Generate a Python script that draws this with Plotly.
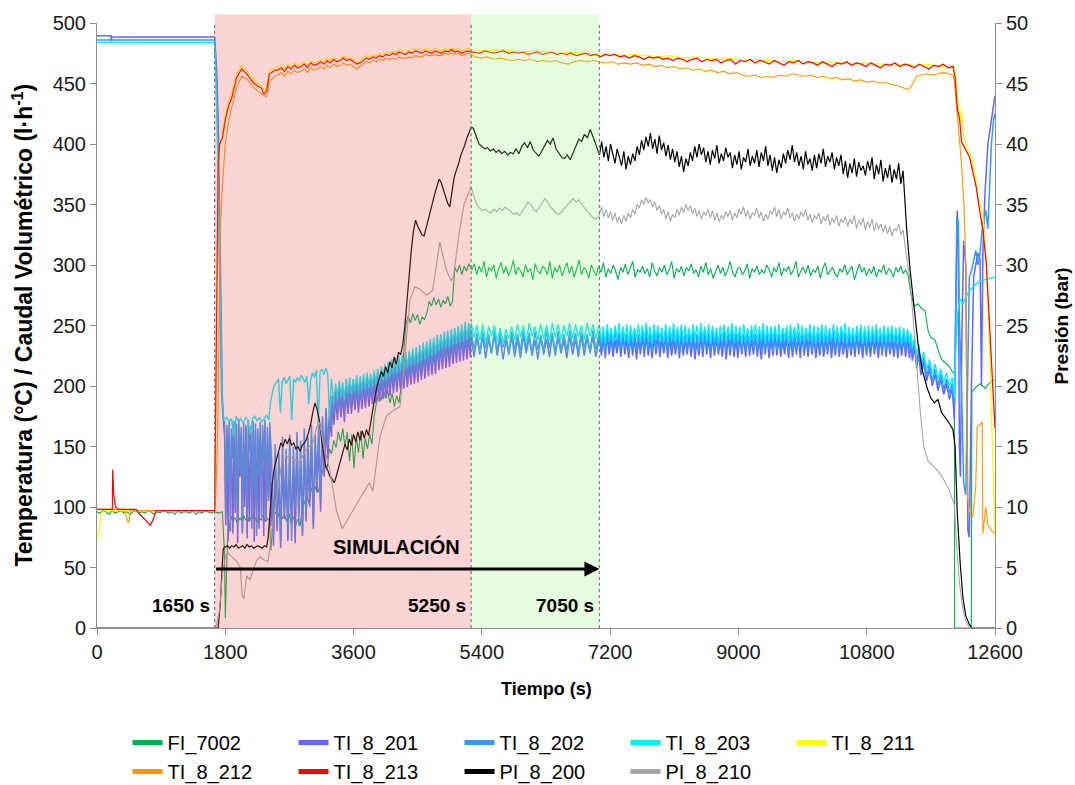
import numpy as np
import plotly.graph_objects as go


def assemble(*parts):
    """Join knot lists (times, values) and evenly sampled runs (t0, t1, values)."""
    ts, vs = [], []
    for p in parts:
        if len(p) == 2:
            ts.extend(p[0]); vs.extend(p[1])
        else:
            t0, t1, vals = p
            ts.extend(np.linspace(t0, t1, len(vals)).tolist()); vs.extend(vals)
    return ts, vs


# ---------------- FI_7002 (caudal, l/h) ----------------
fi_pre = [96, 95, 97, 96, 94, 97, 95, 96, 97, 95, 96, 94, 96, 97, 95, 96, 95, 97, 96, 94,
          96, 95, 97, 96, 95, 96, 94, 97, 95, 96, 96, 95, 97, 94, 96, 95, 97, 96, 95, 96]
fi_start_t = [1650, 1700, 1760, 1790, 1800, 1830, 1860]
fi_start_v = [96, 95, 96, 60, 8, 70, 88]
fi_low = [89, 92, 88, 91, 90, 87, 92, 89, 91, 88, 93, 90, 89, 92, 88, 91, 90, 94, 89, 91,
          87, 92, 90, 89, 93, 90, 88, 91, 90, 89]
fi_rise = [64, 92, 96, 91, 97, 90, 94, 88, 95, 87, 92, 85, 90, 84, 98, 104, 110, 103, 116, 110,
           117, 112, 121, 128, 138, 131, 148, 144, 155, 149, 162, 154, 165, 150, 162, 138, 160, 132, 158, 145,
           163, 140, 157, 148, 160, 152, 175, 186, 194, 188, 198, 190, 196, 186, 194, 183, 192, 186, 199, 212]
fi_steps = [225, 250, 258, 252, 260, 254, 259, 251, 257, 255, 260, 270, 266, 273, 267, 272, 265, 271, 268, 274,
            266, 270, 298, 294, 300, 292, 299, 295, 301, 297]
fi_run = [296, 301, 292, 299, 294, 303, 290, 298, 295, 300, 289, 297, 302, 293, 299, 291, 296, 304, 292, 298,
          295, 290, 300, 294, 297, 288, 301, 295, 293, 299, 297, 292, 303, 289, 298, 294, 300, 291, 296, 302,
          293, 299, 290, 297, 304, 292, 298, 295, 289, 300, 296, 291, 299, 294, 302, 290, 297, 293, 300, 295,
          288, 298, 294, 301, 292, 297, 303, 290, 296, 294, 299, 293, 297, 290, 302, 295, 291, 298, 294, 300,
          292, 296, 303, 289, 297, 294, 299, 291, 298, 295, 301, 293, 296, 290, 299, 294, 302, 292, 297, 289,
          295, 300, 293, 298, 291, 296, 303, 294, 290, 297, 298, 292, 295, 301, 289, 297, 294, 299, 292, 296,
          293, 300, 296, 290, 298, 294, 302, 291, 297, 295, 299, 292, 296, 303, 290, 295, 298, 293, 300, 291,
          296, 294, 299, 289, 297, 302, 292, 295, 298, 293, 290, 297, 294, 300, 292, 296, 299, 288, 295, 301,
          294, 298, 291, 297, 293, 299, 290, 296, 294, 300, 292, 297, 295, 290, 298, 294, 299, 293, 296, 292]
fi_end_t = [11420, 11470, 11520, 11570, 11620, 11660, 11700, 11760, 11800, 11850, 11900, 11950, 12000, 12030,
            12034, 12268, 12275, 12330, 12400, 12460, 12530, 12600]
fi_end_v = [276, 266, 268, 264, 262, 246, 240, 238, 230, 222, 219, 217, 212, 210,
            0, 0, 195, 199, 202, 198, 203, 205]

# ---------------- TI_8_201 ----------------
t201_start_t = [0, 195, 200, 210, 1650, 1660, 1680, 1700, 1720, 1740, 1760, 1780]
t201_start_v = [489.5, 489.5, 485, 488.5, 488.5, 480, 460, 420, 350, 260, 190, 165]
t201_chaos = [160, 85, 150, 72, 165, 110, 140, 78, 158, 95, 168, 70, 145, 125, 160, 80, 152, 100, 166, 74,
              148, 88, 162, 118, 155, 71, 164, 98, 143, 82, 160, 135, 150, 76, 167, 92, 153, 108, 161, 84]
t201_climb = [120, 68, 132, 80, 125, 66, 138, 90, 128, 72, 140, 85, 130, 70, 145, 95, 135, 76, 148, 88,
              140, 100, 150, 82, 146, 112, 155, 96, 160, 125, 168, 140, 172, 158]
t201_band = [186, 168, 190, 172, 193, 174, 192, 170, 195, 177, 196, 177, 195, 180, 198, 178, 197, 181, 199, 182,
             200, 183, 199, 185, 202, 186, 203, 187, 205, 189, 207, 190, 209, 192, 211, 194, 212, 195, 214, 197,
             215, 198, 217, 199, 218, 201, 220, 202, 221, 203, 223, 205, 225, 206, 226, 208, 228, 209, 229, 210,
             231, 213, 232, 214, 234, 215, 235, 216, 236, 218, 237, 219, 239, 220, 240, 221, 241, 222, 240, 224]
t201_sim = [242, 224, 240, 226, 241, 223, 239, 227, 242, 225, 240, 222, 238, 226, 241, 224, 239, 223, 242, 227,
            240, 225, 238, 222, 241, 226, 239, 224, 242, 225, 240, 227, 238, 223, 241, 226, 239, 224, 242, 225,
            240, 227, 241, 224, 239]
t201_run = [241, 225, 239, 223, 242, 226, 240, 224, 238, 227, 240, 224, 242, 226, 239, 223, 241, 225, 240, 222,
            239, 226, 241, 224, 242, 225, 238, 223, 240, 226, 242, 224, 239, 227, 241, 223, 240, 225, 238, 226,
            240, 223, 242, 225, 239, 226, 241, 224, 240, 222, 238, 225, 241, 224, 242, 226, 239, 223, 241, 225,
            240, 226, 238, 224, 241, 222, 240, 225, 242, 224, 239, 223, 241, 226, 240, 224, 242, 225, 238, 226,
            241, 224, 239, 222, 240, 226, 241, 223, 239, 225, 242, 225, 240, 224, 238, 226, 241, 223, 240, 224,
            239, 226, 241, 223, 242, 225, 239, 224, 241, 226, 240, 223, 238, 225, 241, 224, 240, 226, 242, 223,
            239, 225, 241, 224, 240, 226, 238, 223, 241, 225, 240, 224, 242, 226, 239, 223, 241, 225, 239, 224,
            241, 226, 239, 223, 240, 225, 242, 224, 240, 226, 238, 224, 240, 223, 239, 225, 240, 224, 238, 223]
t201_end_t = [11420, 11440, 11470, 11500, 11530, 11560, 11600, 11640, 11680, 11720, 11760, 11800, 11840, 11880,
              11920, 11960, 12000, 12030, 12050, 12070, 12085, 12100, 12115, 12135, 12160, 12190, 12220, 12240,
              12270, 12300, 12330, 12360, 12390, 12410, 12430, 12460, 12500, 12540, 12580, 12600]
t201_end_v = [236, 221, 232, 215, 226, 209, 220, 204, 214, 200, 210, 196, 206, 193,
              202, 189, 198, 172, 250, 345, 320, 150, 125, 240, 320, 300, 80, 75,
              200, 290, 300, 310, 305, 200, 310, 360, 400, 415, 430, 440]

# ---------------- TI_8_202 ----------------
t202_start_t = [0, 1650, 1660, 1680, 1700, 1715, 1730, 1750, 1770]
t202_start_v = [486, 486, 475, 450, 400, 320, 250, 190, 172]
t202_chaos = [170, 95, 168, 120, 172, 80, 165, 140, 171, 100, 169, 85, 173, 130, 166, 78, 170, 115, 168, 90,
              172, 145, 167, 82, 171, 110, 169, 76, 165, 125, 170, 92, 168, 138, 172, 88, 166, 105, 170, 150]
t202_climb = [140, 75, 152, 88, 145, 70, 158, 95, 148, 80, 160, 72, 150, 100, 162, 85, 155, 78, 165, 92,
              158, 110, 168, 86, 160, 120, 172, 105, 175, 140, 182, 150, 186, 165]
t202_band = [192, 176, 196, 180, 199, 183, 198, 179, 201, 186, 202, 185, 201, 188, 204, 186, 203, 189, 205, 190,
             206, 191, 205, 193, 208, 194, 209, 195, 211, 197, 213, 198, 215, 200, 217, 202, 218, 203, 220, 205,
             221, 206, 223, 207, 224, 209, 226, 210, 227, 211, 229, 213, 231, 214, 232, 216, 234, 217, 235, 218,
             237, 221, 238, 222, 240, 223, 241, 224, 242, 226, 243, 227, 245, 228, 246, 229, 247, 230, 246, 232]
t202_sim = [246, 230, 244, 228, 245, 231, 243, 227, 246, 229, 244, 232, 242, 228, 245, 230, 243, 229, 246, 231,
            244, 227, 245, 230, 242, 229, 246, 231, 244, 228, 245, 230, 243, 229, 246, 232, 244, 228, 245, 231,
            243, 229, 246, 230, 244]
t202_run = [245, 230, 243, 228, 246, 231, 244, 229, 247, 232, 244, 229, 246, 231, 243, 228, 245, 230, 246, 229,
            243, 231, 245, 229, 247, 230, 244, 228, 246, 231, 245, 229, 243, 230, 246, 228, 244, 231, 247, 230,
            244, 228, 246, 231, 243, 229, 245, 230, 246, 228, 243, 230, 247, 229, 245, 231, 244, 228, 246, 230,
            245, 229, 243, 231, 246, 228, 244, 230, 247, 229, 244, 231, 246, 228, 243, 230, 245, 229, 246, 231,
            243, 228, 245, 230, 247, 229, 244, 231, 246, 228, 245, 230, 243, 229, 246, 231, 244, 228, 245, 230,
            246, 229, 244, 231, 243, 228, 247, 230, 245, 229, 244, 231, 246, 228, 245, 230, 243, 229, 246, 231,
            245, 228, 243, 230, 246, 229, 244, 231, 247, 228, 243, 230, 245, 229, 246, 231, 244, 228, 245, 230,
            244, 229, 246, 231, 243, 228, 245, 230, 244, 229, 245, 230, 243, 228, 244, 229, 243, 230, 244, 229]
t202_end_t = [11420, 11440, 11470, 11500, 11530, 11560, 11600, 11640, 11680, 11720, 11760, 11800, 11840, 11880,
              11920, 11960, 12000, 12030, 12045, 12065, 12085, 12100, 12130, 12160, 12190, 12210, 12240, 12270,
              12300, 12330, 12360, 12390, 12430, 12470, 12500, 12520, 12550, 12580, 12600]
t202_end_v = [240, 226, 236, 220, 230, 214, 224, 208, 218, 204, 214, 200, 210, 197,
              206, 194, 202, 185, 260, 340, 335, 255, 200, 120, 110, 180, 290, 295,
              305, 312, 300, 310, 335, 345, 330, 360, 400, 420, 425]

# ---------------- TI_8_203 ----------------
t203_start_t = [0, 1650, 1660, 1680, 1700, 1720, 1740, 1760, 1780]
t203_start_v = [484, 484, 470, 430, 380, 300, 230, 185, 172]
t203_flat = [172, 174, 170, 173, 158, 175, 171, 173, 169, 174, 172, 160, 173, 175, 171, 174, 170, 173, 176, 172]
t203_rise_t = [2430, 2470, 2500]
t203_rise_v = [185, 197, 202]
t203_shelf = [203, 206, 178, 204, 207, 202, 205, 208, 172, 206, 203, 207, 204, 209, 206, 203, 208, 185, 205, 211,
              207, 213, 168, 212, 214, 209, 215, 210, 175, 206]
t203_band = [199, 187, 202, 190, 204, 192, 203, 189, 206, 194, 207, 194, 206, 196, 209, 195, 208, 197, 210, 198,
             211, 199, 210, 201, 213, 202, 214, 203, 216, 205, 218, 206, 220, 208, 222, 210, 223, 211, 225, 213,
             226, 214, 228, 215, 229, 217, 231, 218, 232, 219, 234, 221, 236, 222, 237, 224, 239, 225, 240, 226,
             242, 229, 243, 230, 245, 231, 246, 232, 247, 234, 248, 235, 250, 236, 251, 237, 253, 238, 252, 240]
t203_sim = [252, 240, 250, 238, 251, 236, 249, 241, 250, 237, 248, 235, 247, 239, 249, 238, 251, 240, 250, 236,
            252, 241, 249, 238, 251, 239, 250, 237, 252, 240, 251, 238, 250, 241, 252, 239, 251, 240, 250, 238,
            252, 241, 251, 239, 250]
t203_run = [250, 237, 249, 235, 251, 238, 248, 236, 250, 239, 252, 236, 249, 238, 251, 235, 250, 237, 248, 239,
            251, 236, 250, 238, 252, 237, 249, 235, 251, 238, 250, 239, 248, 236, 251, 237, 249, 238, 252, 236,
            249, 237, 251, 235, 250, 238, 248, 236, 251, 239, 250, 236, 252, 238, 249, 237, 251, 235, 250, 238,
            248, 236, 250, 239, 251, 237, 249, 238, 252, 236, 250, 238, 249, 235, 251, 237, 248, 236, 250, 239,
            251, 236, 249, 238, 252, 235, 250, 237, 249, 238, 250, 237, 251, 236, 248, 239, 250, 235, 251, 237,
            249, 238, 252, 236, 250, 237, 248, 239, 251, 236, 250, 235, 249, 238, 251, 236, 250, 237, 248, 238,
            251, 237, 249, 236, 250, 239, 252, 235, 249, 237, 248, 236, 250, 238, 251, 235, 249, 237, 250, 236,
            249, 238, 251, 236, 248, 237, 250, 235, 249, 238, 250, 236, 248, 237, 249, 235, 248, 236, 247, 237]
t203_end_t = [11420, 11440, 11470, 11500, 11530, 11560, 11600, 11640, 11680, 11720, 11760, 11800, 11840, 11880,
              11920, 11960, 12000, 12030, 12050, 12080, 12110, 12150, 12200, 12260, 12330, 12400, 12480, 12600]
t203_end_v = [244, 232, 240, 226, 234, 220, 228, 214, 222, 210, 218, 206, 214, 203,
              211, 200, 207, 190, 230, 262, 272, 268, 275, 280, 284, 287, 288, 290]

# ---------------- TI_8_211 ----------------
t211_start_t = [0, 30, 60, 100, 1650, 1660, 1680, 1700, 1720, 1760, 1800, 1850, 1890, 1960, 2030, 2100, 2190,
                2250, 2310, 2340, 2380, 2420, 2500]
t211_start_v = [74, 80, 95, 97, 97, 130, 280, 370, 395, 410, 425, 436, 442, 458, 465, 461, 454,
                450, 448, 444, 447, 461, 463]
t211_rise = [463, 465, 462, 466, 464, 467, 465, 466, 468, 465, 469, 467, 468, 470, 468, 471, 469, 472, 470, 471,
             473, 471, 472, 470, 468, 469, 471, 473, 472, 474, 473, 475, 474, 476, 475, 477, 476, 478, 477, 476,
             478, 477, 479, 478, 477, 479, 478, 477, 479, 478, 477, 479, 478, 479, 478, 479, 477, 478, 479, 478]
t211_run = [478, 477, 478, 477, 476, 477, 476, 475, 476, 475, 474, 475, 473, 474, 473, 472, 473, 471, 472, 471,
            470, 471, 469, 470, 469, 468, 469, 468, 467, 468, 467, 466, 467, 466, 465, 466, 465, 466, 464, 465]
t211_end_t = [12040, 12070, 12100, 12120, 12130, 12150, 12200, 12244, 12300, 12338, 12360, 12384, 12431,
              12460, 12478, 12525, 12560, 12600]
t211_end_v = [458, 440, 425, 418, 428, 410, 398, 393, 382, 368, 355, 352, 340,
              320, 305, 230, 160, 75]

# ---------------- TI_8_212 ----------------
t212_start_t = [0, 380, 410, 440, 455, 470, 1650, 1660, 1690, 1710, 1730, 1760, 1800, 1850, 1900, 1960, 2030,
                2100, 2190, 2310, 2380, 2420, 2500]
t212_start_v = [98, 98, 92, 87, 90, 97, 97, 100, 150, 250, 330, 365, 400, 420, 432, 447, 456,
                454, 447, 441, 439, 452, 456]
t212_rise = [457, 459, 456, 460, 458, 461, 459, 460, 462, 459, 463, 461, 462, 464, 462, 465, 463, 466, 464, 465,
             467, 465, 466, 464, 462, 464, 466, 468, 467, 469, 468, 470, 469, 471, 470, 471, 470, 472, 471, 471,
             472, 471, 473, 472, 472, 474, 473, 473, 474, 473, 473, 475, 474, 475, 474, 475, 473, 474, 475, 474]
t212_run = [472, 471, 472, 470, 471, 470, 469, 470, 469, 470, 468, 469, 468, 469, 467, 466, 468, 469, 468, 469,
            468, 467, 468, 466, 467, 466, 467, 465, 466, 464, 465, 463, 464, 462, 463, 461, 462, 460, 461, 459,
            460, 458, 459, 457, 456, 457, 455, 456, 455, 457, 456, 458, 457, 456, 457, 455, 456, 454, 455, 453,
            454, 452, 453, 451, 452, 450, 451, 449, 448, 446]
t212_end_t = [11380, 11420, 11460, 11500, 11560, 11640, 11720, 11800, 11880, 11950, 12010, 12030, 12060, 12090,
              12130, 12170, 12190, 12205, 12215, 12250, 12290, 12330, 12350, 12400, 12420, 12430, 12470, 12500,
              12560, 12600]
t212_end_v = [445, 447, 452, 456, 457, 458, 457, 458, 459, 458, 457, 452, 430, 411,
              384, 343, 300, 180, 106, 95, 92, 117, 166, 169, 170, 78, 100, 85,
              80, 78]

# ---------------- TI_8_213 ----------------
t213_start_t = [0, 200, 215, 220, 235, 260, 300, 550, 600, 700, 750, 790, 830, 1650, 1660, 1680, 1700, 1720,
                1760, 1800, 1850, 1890, 1960, 2030, 2100, 2190, 2250, 2310, 2340, 2380, 2420, 2500]
t213_start_v = [98, 98, 98, 131, 110, 100, 98, 98, 94, 88, 85, 90, 97, 97, 150, 300, 380, 400,
                405, 420, 432, 438, 455, 462, 458, 451, 448, 446, 441, 444, 458, 461]
t213_rise = [461, 463, 460, 464, 462, 465, 463, 464, 466, 463, 467, 465, 466, 468, 466, 469, 467, 470, 468, 469,
             471, 469, 470, 468, 466, 467, 469, 471, 470, 472, 471, 473, 472, 474, 473, 475, 474, 476, 475, 474,
             476, 475, 477, 476, 475, 477, 476, 475, 477, 476, 475, 477, 476, 478, 476, 477, 475, 476, 477, 476]
t213_run = [476, 475, 477, 476, 475, 476, 477, 475, 476, 475, 476, 474, 475, 476, 474, 475, 476, 474, 475, 474,
            475, 473, 474, 475, 473, 474, 472, 474, 473, 474, 472, 473, 471, 473, 472, 470, 472, 471, 472, 470,
            471, 469, 471, 470, 468, 470, 471, 468, 470, 469, 470, 467, 469, 470, 466, 469, 468, 470, 467, 469,
            468, 466, 469, 467, 465, 468, 467, 469, 466, 468, 467, 465, 468, 466, 464, 467, 466, 468, 465, 467,
            466, 464, 467, 465, 463, 466, 465, 467, 464, 466, 465, 463, 466, 464, 462, 465, 464, 466, 463, 464]
t213_end_t = [12040, 12070, 12104, 12130, 12150, 12200, 12244, 12290, 12338, 12384, 12431, 12478, 12525,
              12560, 12600]
t213_end_v = [455, 430, 420, 402, 400, 394, 389, 378, 364, 345, 329, 301, 246, 215, 165]

# ---------------- PI_8_200 (bar) ----------------
p200_start_t = [0, 1700, 1730, 1750, 1770, 1790]
p200_start_v = [0, 0, 2, 5, 6.5, 6.7]
p200_flat = [6.7, 6.8, 6.6, 6.8, 6.7, 6.9, 6.6, 6.7, 6.8, 6.6, 6.9, 6.7, 6.8, 6.6, 6.7, 6.8, 6.7, 6.6, 6.8, 6.7]
p200_rise = [7.4, 10.0, 12.0, 13.3, 14.0, 14.6, 15.3, 15.0, 15.6, 15.2, 15.7, 15.1, 15.3, 14.8, 15.0, 14.6,
             15.1, 15.3, 15.6, 16.2, 16.9, 17.9, 18.6, 18.0, 17.2, 15.6, 14.3, 13.3, 13.0, 12.5, 12.3, 12.0,
             12.6, 13.2, 13.9, 14.6, 15.2, 14.7, 15.6, 15.1, 16.0, 15.4, 16.2, 15.5, 16.3, 15.7, 16.4, 15.9,
             17.0, 18.2, 19.1, 20.0, 20.6, 21.2, 20.8, 21.6, 21.1, 22.0, 21.5, 22.4, 21.8, 22.8, 22.6, 23.4,
             25.0, 27.3, 29.5, 31.2, 32.8, 33.7, 33.2, 32.9, 32.5, 32.4, 33.1, 34.0, 34.6, 35.2, 35.9, 36.5,
             37.1, 36.8, 36.2, 35.6, 35.1, 34.8, 35.9, 37.2, 37.8, 38.3, 39.0, 39.4, 39.9, 40.5, 41.0, 41.4]
p200_sim = [41.3, 40.6, 40.0, 39.8, 39.6, 39.7, 39.4, 39.6, 39.3, 39.5, 39.2, 39.4, 39.1, 39.3, 39.2, 39.6,
            39.2, 39.8, 40.1, 39.7, 40.2, 39.5, 39.2, 39.0, 39.4, 39.8, 40.3, 40.0, 40.5, 39.6, 39.2, 38.9,
            38.8, 39.1, 38.7, 39.3, 39.9, 40.4, 40.2, 40.8, 40.5, 41.2, 40.6, 40.0, 39.3]
p200_run = [39.1, 40.2, 38.9, 39.8, 38.6, 40.0, 39.2, 38.4, 39.6, 38.8, 38.2, 39.4, 37.9, 39.0, 38.3, 39.2,
            38.6, 39.8, 39.1, 40.3, 39.5, 40.6, 39.8, 40.9, 39.6, 40.4, 39.2, 40.7, 39.5, 40.1, 39.0, 39.9,
            38.7, 39.6, 38.5, 39.4, 38.1, 39.0, 37.7, 38.8, 38.2, 39.3, 38.6, 39.8, 38.9, 40.0, 39.1, 39.7,
            38.5, 39.4, 38.3, 39.5, 38.8, 39.9, 38.4, 39.2, 38.6, 39.7, 38.9, 39.3, 38.0, 39.1, 38.3, 39.4,
            37.9, 38.9, 38.5, 39.6, 38.2, 39.0, 38.4, 39.5, 38.1, 39.3, 38.6, 39.8, 38.2, 39.1, 37.8, 38.9,
            37.6, 38.7, 38.0, 39.2, 38.4, 39.5, 38.7, 39.9, 38.5, 39.3, 38.2, 39.0, 37.9, 39.4, 38.3, 38.8,
            37.8, 39.1, 38.0, 39.2, 38.4, 39.6, 38.1, 39.0, 38.5, 39.3, 37.9, 38.9, 38.2, 39.1, 37.5, 38.6,
            37.2, 38.4, 37.6, 38.8, 37.3, 38.5, 37.8, 38.2, 37.4, 38.6, 37.8, 38.9, 37.1, 38.3, 37.5, 38.7,
            36.9, 38.0, 37.2, 38.3, 36.8, 37.9, 37.1, 38.4, 36.7, 37.8]
p200_end_t = [11360, 11410, 11460, 11520, 11580, 11650, 11700, 11750, 11800, 11850, 11900, 11950, 12010, 12040,
              12070, 12110, 12150, 12190, 12240, 12280, 12600]
p200_end_v = [33.0, 29.5, 26.7, 23.5, 21.3, 19.8, 19.0, 18.6, 18.9, 17.8, 17.4, 17.0, 16.4, 15.0,
              9.6, 5.5, 2.5, 1.0, 0.3, 0.0, 0.0]

# ---------------- PI_8_210 (bar) ----------------
p210_start_t = [0, 1650, 1680, 1720, 1760, 1800, 1830, 1870, 1960, 2010, 2035, 2060, 2100, 2150, 2190, 2240,
                2290, 2350, 2400, 2450, 2480, 2600, 2700, 2840, 2930, 3030, 3080, 3120, 3200, 3260, 3360,
                3440, 3540, 3680, 3820, 3870, 3920, 3970, 4060, 4160, 4250, 4300, 4390, 4460, 4530, 4620,
                4710, 4810, 4900, 4970, 5000, 5080, 5150, 5250]
p210_start_v = [0, 0, 0.3, 1.5, 4.5, 5.8, 6.3, 6.0, 5.5, 5.0, 2.8, 2.4, 4.3, 4.0, 4.8, 5.6,
                5.9, 5.6, 5.5, 8.0, 9.2, 13.9, 14.2, 13.7, 14.7, 15.3, 16.6, 17.0, 14.5, 13.3, 9.7,
                8.2, 9.2, 10.6, 12.0, 11.3, 13.5, 15.8, 17.5, 18.0, 18.3, 21.0, 27.1, 28.2, 28.0, 27.5,
                27.9, 31.9, 29.6, 28.7, 29.0, 32.6, 35.0, 36.5]
p210_sim = [35.6, 35.0, 34.7, 34.5, 34.6, 34.4, 34.3, 34.6, 34.4, 34.7, 34.5, 34.8, 34.6, 34.4, 34.2, 34.3,
            34.1, 34.4, 34.8, 35.2, 35.0, 34.6, 34.4, 34.7, 35.1, 35.5, 35.2, 34.8, 34.5, 34.3, 34.2, 34.4,
            34.7, 35.0, 35.3, 35.5, 35.2, 35.4, 35.0, 34.7, 34.4, 34.1, 33.9, 33.8, 34.0]
p210_run = [34.2, 34.8, 34.0, 34.6, 33.9, 34.4, 33.7, 34.3, 33.5, 34.0, 33.4, 34.1, 33.6, 34.3, 33.9, 34.6,
            34.2, 35.0, 34.7, 35.4, 35.0, 35.6, 35.1, 35.4, 34.8, 35.2, 34.5, 34.9, 34.2, 34.6, 33.8, 34.4,
            33.6, 34.2, 33.9, 34.6, 34.1, 34.8, 34.3, 35.0, 34.5, 34.9, 34.2, 34.7, 34.0, 34.5, 33.8, 34.4,
            34.1, 34.6, 33.9, 34.5, 33.7, 34.3, 33.6, 34.1, 33.8, 34.4, 34.0, 34.5, 33.7, 34.3, 33.9, 34.6,
            34.2, 34.8, 34.0, 34.5, 33.8, 34.3, 34.1, 34.7, 33.9, 34.4, 33.6, 34.2, 33.8, 34.5, 34.2, 34.8,
            34.0, 34.6, 33.8, 34.4, 34.1, 34.7, 33.9, 34.3, 33.6, 34.2, 33.8, 34.4, 34.0, 34.6, 33.7, 34.2,
            33.5, 34.1, 33.8, 34.3, 33.4, 34.0, 33.6, 34.2, 33.3, 33.9, 33.5, 34.1, 33.2, 33.8, 33.5, 34.0,
            33.2, 33.8, 33.4, 34.1, 33.0, 33.7, 33.3, 33.9, 32.9, 33.6, 33.1, 33.8, 32.8, 33.5, 33.0, 33.4,
            32.7, 33.3, 32.6, 33.2, 32.4, 33.0, 32.8, 33.4, 32.5, 32.9]
p210_end_t = [11340, 11400, 11440, 11500, 11550, 11600, 11660, 11750, 11850, 11950, 12030, 12060, 12100,
              12150, 12200, 12260, 12600]
p210_end_v = [31.5, 29.0, 26.5, 21.5, 18.0, 15.0, 13.8, 13.3, 12.6, 11.5, 10.2, 7.0, 3.8,
              1.5, 0.4, 0.0, 0.0]

# Series assembly
fi_t, fi_v = assemble((0, 1640, fi_pre), (fi_start_t, fi_start_v), (1870, 2420, fi_low),
                      (2440, 4299, fi_rise), (4300, 5250, fi_steps), (5260, 11380, fi_run),
                      (fi_end_t, fi_end_v))
t201_t, t201_v = assemble((t201_start_t, t201_start_v), (1790, 2440, t201_chaos), (2450, 3290, t201_climb),
                          (3300, 5240, t201_band), (5250, 7040, t201_sim), (7050, 11400, t201_run),
                          (t201_end_t, t201_end_v))
t202_t, t202_v = assemble((t202_start_t, t202_start_v), (1790, 2440, t202_chaos), (2450, 3290, t202_climb),
                          (3300, 5240, t202_band), (5250, 7040, t202_sim), (7050, 11400, t202_run),
                          (t202_end_t, t202_end_v))
t203_t, t203_v = assemble((t203_start_t, t203_start_v), (1790, 2410, t203_flat), (t203_rise_t, t203_rise_v),
                          (2520, 3290, t203_shelf), (3300, 5240, t203_band), (5250, 7040, t203_sim),
                          (7050, 11400, t203_run), (t203_end_t, t203_end_v))
t211_t, t211_v = assemble((t211_start_t, t211_start_v), (2540, 5250, t211_rise), (5300, 12010, t211_run),
                          (t211_end_t, t211_end_v))
t212_t, t212_v = assemble((t212_start_t, t212_start_v), (2540, 5250, t212_rise), (5300, 11330, t212_run),
                          (t212_end_t, t212_end_v))
t213_t, t213_v = assemble((t213_start_t, t213_start_v), (2540, 5250, t213_rise), (5300, 12010, t213_run),
                          (t213_end_t, t213_end_v))
p200_t, p200_v = assemble((p200_start_t, p200_start_v), (1800, 2380, p200_flat), (2400, 5250, p200_rise),
                          (5280, 7040, p200_sim), (7050, 11310, p200_run), (p200_end_t, p200_end_v))
p210_t, p210_v = assemble((p210_start_t, p210_start_v), (5290, 7040, p210_sim), (7050, 11310, p210_run),
                          (p210_end_t, p210_end_v))

# name, times, values, colour, axis, line width
series = [
    ("FI_7002", fi_t, fi_v, "#00B050", "y", 1.1),
    ("TI_8_201", t201_t, t201_v, "#6666FF", "y", 1.5),
    ("TI_8_202", t202_t, t202_v, "#3399FF", "y", 1.5),
    ("TI_8_203", t203_t, t203_v, "#00EEFF", "y", 1.4),
    ("TI_8_211", t211_t, t211_v, "#FFFF00", "y", 1.2),
    ("TI_8_212", t212_t, t212_v, "#FF9900", "y", 1.1),
    ("TI_8_213", t213_t, t213_v, "#FF0000", "y", 1.2),
    ("PI_8_200", p200_t, p200_v, "#000000", "y2", 1.2),
    ("PI_8_210", p210_t, p210_v, "#A6A6A6", "y2", 1.1),
]

x_ticks = [0, 1800, 3600, 5400, 7200, 9000, 10800, 12600]
x_tick_text = ["0", "1800", "3600", "5400", "7200", "9000", "10800", "12600"]
t_start, t_sim_end, t_test_end = 1650, 5250, 7050
arrow_level = 48.7
t_max = 12600

fig = go.Figure()
for name, t, v, color, yax, w in series:
    fig.add_trace(go.Scatter(x=t, y=v, mode="lines", name=name, yaxis=yax, showlegend=False,
                             line=dict(color=color, width=w), hoverinfo="skip"))
# thick legend keys
for name, t, v, color, yax, w in series:
    fig.add_trace(go.Scatter(x=[None], y=[None], mode="lines", name=name, yaxis=yax,
                             line=dict(color=color, width=5)))

font_main = "Liberation Sans, Arial, sans-serif"
axis_col = "#8C8C8C"

shapes = [
    dict(type="rect", xref="paper", yref="paper", x0=t_start / t_max, x1=t_sim_end / t_max,
         y0=0, y1=1.0144, fillcolor="rgba(238,80,80,0.24)", line=dict(width=0), layer="above"),
    dict(type="rect", xref="paper", yref="paper", x0=t_sim_end / t_max, x1=t_test_end / t_max,
         y0=0, y1=1.0144, fillcolor="rgba(130,240,100,0.21)", line=dict(width=0), layer="above"),
]
for tv in (t_start, t_sim_end, t_test_end):
    shapes.append(dict(type="line", xref="paper", yref="paper", x0=tv / t_max, x1=tv / t_max, y0=0, y1=1,
                       line=dict(color="#7F7F7F", width=1.2, dash="dot"), layer="above"))

annotations = [
    # simulation-period arrow, from start of test to end of simulated window
    dict(x=t_test_end, y=arrow_level, ax=t_start, ay=arrow_level, xref="x", yref="y", axref="x", ayref="y",
         text="", showarrow=True, arrowhead=2, arrowsize=1, arrowwidth=3, arrowcolor="#000"),
    dict(x=4205, y=67, xref="x", yref="y", text="<b>SIMULACIÓN</b>", showarrow=False,
         font=dict(size=20, color="#000", family=font_main)),
]
for tv in (t_start, t_sim_end, t_test_end):
    annotations.append(dict(x=tv, y=19, xref="x", yref="y", text=f"<b>{tv} s</b>", showarrow=False,
                            xanchor="right", xshift=-3, font=dict(size=19, color="#000", family=font_main)))
annotations += [
    dict(x=-0.0835, y=0.5, xref="paper", yref="paper", textangle=-90, showarrow=False,
         xanchor="center", yanchor="middle",
         text="<b>Temperatura (°C) / Caudal Volumétrico (l·h<sup>-1</sup>)</b>",
         font=dict(size=23, color="#000", family=font_main)),
    dict(x=1.0746, y=0.5, xref="paper", yref="paper", textangle=-90, showarrow=False,
         xanchor="center", yanchor="middle",
         text="<b>Presión (bar)</b>", font=dict(size=19, color="#000", family=font_main)),
    dict(x=0.5, y=-0.1008, xref="paper", yref="paper", showarrow=False, xanchor="center", yanchor="middle",
         text="<b>Tiempo (s)</b>", font=dict(size=18, color="#000", family=font_main)),
]

tick_font = dict(size=20, color="#1A1A1A", family=font_main)
fig.update_layout(
    width=1075, height=785,
    margin=dict(l=97, r=80, t=23, b=157, autoexpand=False),
    paper_bgcolor="white", plot_bgcolor="white",
    font=dict(family=font_main),
    xaxis=dict(range=[0, t_max], tickvals=x_ticks, ticktext=x_tick_text, ticks="outside", ticklen=6,
               tickcolor=axis_col, showline=True, linecolor=axis_col, linewidth=1, showgrid=False,
               zeroline=False, tickfont=tick_font),
    yaxis=dict(range=[0, 500], dtick=50, ticks="outside", ticklen=6, tickcolor=axis_col,
               showline=True, linecolor=axis_col, linewidth=1, showgrid=False, zeroline=False,
               tickfont=tick_font),
    yaxis2=dict(range=[0, 50], dtick=5, overlaying="y", side="right", ticks="outside", ticklen=6,
                tickcolor=axis_col, showline=True, linecolor=axis_col, linewidth=1, showgrid=False,
                zeroline=False, tickfont=tick_font),
    legend=dict(orientation="h", x=0.034, y=-0.157, xanchor="left", yanchor="top",
                entrywidth=121, entrywidthmode="pixels", tracegroupgap=0,
                font=dict(size=20, color="#000", family=font_main),
                itemwidth=30, bgcolor="rgba(0,0,0,0)"),
    shapes=shapes,
    annotations=annotations,
)

fig.write_html("out.html")
